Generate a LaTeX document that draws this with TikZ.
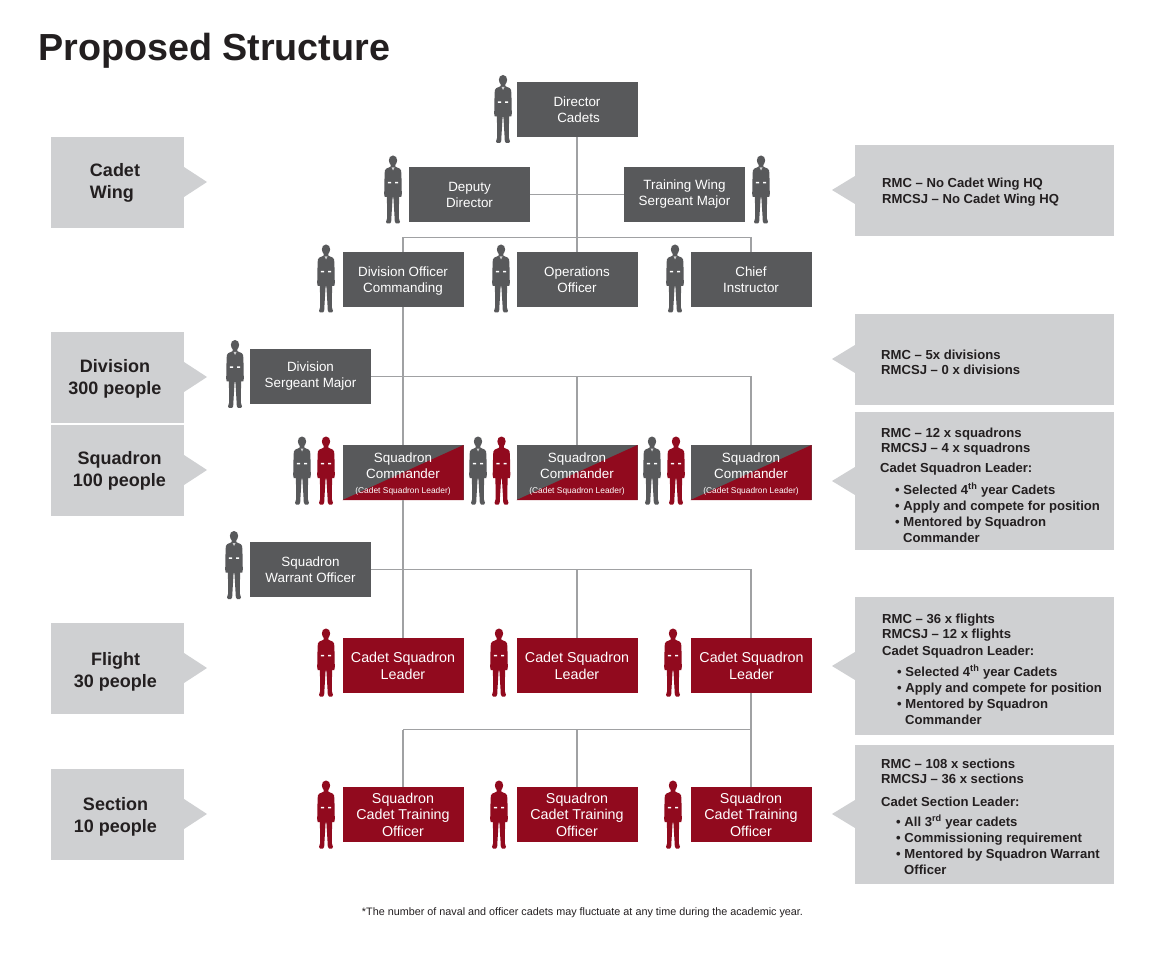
\documentclass[tikz,border=0pt]{standalone}
\usepackage{fontspec}
\setmainfont{Liberation Sans}
\definecolor{dkgrey}{HTML}{58595B}
\definecolor{cadetred}{HTML}{910A1E}
\definecolor{panel}{HTML}{CFD0D2}
\definecolor{linegrey}{HTML}{A0A1A3}
\definecolor{inkdark}{HTML}{231F20}
\newcommand{\fsz}[2]{\fontsize{#1}{#2}\selectfont}
% person silhouette: [collar opacity] centre x, top y, colour
\newcommand{\figperson}[4][.7]{%
\begin{scope}[shift={(#2,#3)}]
\fill[#4] (0,0) .. controls (2.8,0) and (4.1,2.2) .. (4.1,4.8) .. controls (4.1,7) and (3,8.6) .. (2.2,9.6)
 -- (2.4,11.2) -- (6.8,13.2) .. controls (8,13.8) and (8.3,15.6) .. (8.4,18) -- (8.8,38.5) -- (8.3,41.5) -- (6.4,41.5) -- (6.1,41)
 -- (5.8,62.5) -- (7,66.4) -- (6,68) -- (3,68) -- (1.8,66.2) -- (1.6,62) -- (0.4,42) -- (-0.4,42) -- (-1.6,62) -- (-1.8,66.2) -- (-3,68) -- (-6,68) -- (-7,66.4) -- (-5.8,62.5)
 -- (-6.1,41) -- (-6.4,41.5) -- (-8.3,41.5) -- (-8.8,38.5) -- (-8.4,18) .. controls (-8.3,15.6) and (-8,13.8) .. (-6.8,13.2)
 -- (-2.4,11.2) -- (-2.2,9.6) .. controls (-3,8.6) and (-4.1,7) .. (-4.1,4.8) .. controls (-4.1,2.2) and (-2.8,0) .. (0,0) -- cycle;
\fill[white,opacity=#1] (-1.5,12) -- (1.5,12) -- (0,15) -- cycle;
\fill[white] (-5.2,26.4) rectangle (-2,27.8) (2,26.4) rectangle (5.2,27.8);
\end{scope}}
\tikzset{
  x=1pt,y=-1pt,
  orgbox/.style={minimum width=121pt,minimum height=55pt,inner sep=0pt,outer sep=0pt,align=center,text=white},
  greybox/.style={orgbox,fill=dkgrey,font=\fsz{13.4}{16}},
  redbox/.style={orgbox,fill=cadetred,font=\fsz{14.3}{17}},
  splitbox/.style={orgbox,fill=dkgrey,path picture={\fill[cadetred] (path picture bounding box.south west) -- (path picture bounding box.north east) -- (path picture bounding box.south east) -- cycle;}},
  splittext/.style={font=\fsz{13.4}{16},text=white,align=center,inner sep=0pt,yshift=-1.3pt},
  link/.style={draw=linegrey,line width=1.15pt},
  tier/.style={fill=panel},
  tiertext/.style={font=\fsz{18}{22}\bfseries,text=inkdark,align=center,inner sep=0pt},
  note/.style={font=\fsz{13.1}{15.7}\bfseries,text=inkdark,align=left,anchor=north west,inner sep=0pt},
  notelist/.style={note,font=\fsz{13.1}{16}\bfseries},
}
\begin{document}
\begin{tikzpicture}
\useasboundingbox (0,0) rectangle (1170,973);
\fill[white] (0,0) rectangle (1170,973);

\node[anchor=base west,inner sep=0pt,font=\fsz{37.7}{40}\bfseries,text=inkdark] (title) at (38,61) {Proposed Structure};

% left panels
\foreach \yt/\ya in {137/182,332/377,425/470,623/668,769/814}{
  \fill[tier] (51,\yt) rectangle (184,\yt+91);
  \fill[tier] (184,\ya-15) -- (207,\ya) -- (184,\ya+15) -- cycle;
}
\node[tiertext,align=left] (twing) at (115,183) {Cadet\\Wing};
\node[tiertext] (tdiv) at (115,378.5) {Division\\300 people};
\node[tiertext] (tsqn) at (119.5,471) {Squadron\\100 people};
\node[tiertext] (tflt) at (115.5,672) {Flight\\30 people};
\node[tiertext] (tsec) at (115.5,817) {Section\\10 people};

% right panels
\foreach \yt/\yb/\ya in {145/236/190,314/405/359,412/550/481,597/735/666,745/884/814}{
  \fill[tier] (855,\yt) rectangle (1114,\yb);
  \fill[tier] (855,\ya-14) -- (832,\ya) -- (855,\ya+14) -- cycle;
}
\node[note] (n1) at (882,178) {RMC – No Cadet Wing HQ\\RMCSJ – No Cadet Wing HQ};
\node[note] (n2) at (881,349.5) {RMC – 5x divisions\\RMCSJ – 0 x divisions};
\node[note] (n3a) at (881,427.5) {RMC – 12 x squadrons\\RMCSJ – 4 x squadrons};
\node[note] (n3b) at (880,463) {Cadet Squadron Leader:};
\node[notelist] (n3c) at (895,483) {• Selected 4\textsuperscript{th} year Cadets\\• Apply and compete for position\\• Mentored by Squadron\\\hspace*{8pt}Commander};
\node[note] (n4a) at (882,613.5) {RMC – 36 x flights\\RMCSJ – 12 x flights};
\node[note] (n4b) at (882,645.5) {Cadet Squadron Leader:};
\node[notelist] (n4c) at (897,665) {• Selected 4\textsuperscript{th} year Cadets\\• Apply and compete for position\\• Mentored by Squadron\\\hspace*{8pt}Commander};
\node[note] (n5a) at (881,758.5) {RMC – 108 x sections\\RMCSJ – 36 x sections};
\node[note] (n5b) at (881,796.5) {Cadet Section Leader:};
\node[notelist] (n5c) at (896,815) {• All 3\textsuperscript{rd} year cadets\\• Commissioning requirement\\• Mentored by Squadron Warrant\\\hspace*{8pt}Officer};

% boxes
\node[greybox] (dir) at (577,109.5) {Director\\\hspace*{3pt}Cadets};
\node[greybox] (dep) at (469.5,194.5) {Deputy\\Director};
\node[greybox] (tws) at (684.5,194.5) {Training Wing\\Sergeant Major};
\node[greybox] (doc) at (403,279.5) {Division Officer\\\smash{Commanding}};
\node[greybox] (ops) at (577,279.5) {Operations\\Officer};
\node[greybox] (chf) at (751,279.5) {Chief\\Instructor};
\node[greybox] (dsm) at (310.5,376.5) {Division\\Sergeant Major};
\foreach \n/\cx in {sqa/403,sqb/577,sqc/751}{
  \node[splitbox,label={[splittext]center:Squadron\\Commander\\[-0.5pt]{\fsz{8.4}{10.5}(Cadet Squadron Leader)}}] (\n) at (\cx,472.5) {};
}
\node[greybox] (swo) at (310.5,569.5) {Squadron\\Warrant Officer};
\foreach \n/\cx in {csa/403,csb/577,csc/751.5}{
  \node[redbox] (\n) at (\cx,665.5) {Cadet Squadron\\Leader};
}
\foreach \n/\cx in {tra/403,trb/577,trc/751}{
  \node[redbox,font=\fsz{14.3}{16.5}] (\n) at (\cx,814.5) {Squadron\\Cadet Training\\Officer};
}

% junction points
\coordinate (j2) at (577,237.5);
\coordinate (j2l) at (doc.north |- j2);
\coordinate (j2r) at (chf.north |- j2);
\coordinate (j3m) at (sqb.north |- dsm.east);
\coordinate (j3r) at (sqc.north |- dsm.east);
\coordinate (j4m) at (csb.north |- swo.east);
\coordinate (j4r) at (trc.north |- swo.east);
\coordinate (j5l) at (tra.north |- 0,729.5);
\coordinate (j5m) at (trb.north |- 0,729.5);
\coordinate (j5r) at (trc.north |- 0,729.5);

% connectors
\draw[link] (dir.south) -- (ops.north);
\draw[link] (dep.east) -- (tws.west);
\draw[link] (j2l) -- (j2r);
\draw[link] (j2l) -- (doc.north);
\draw[link] (j2r) -- (chf.north);
\draw[link] (doc.south) -- (sqa.north);
\draw[link] (dsm.east) -- (j3r) -- (sqc.north);
\draw[link] (j3m) -- (sqb.north);
\draw[link] (sqa.south) -- (csa.north);
\draw[link] (swo.east) -- (j4r) -- (csc.north -| j4r);
\draw[link] (j4m) -- (csb.north);
\draw[link] (csc.south -| trc.north) -- (trc.north);
\draw[link] (j5l) -- (j5r);
\draw[link] (j5l) -- (tra.north);
\draw[link] (j5m) -- (trb.north);

% people
\figperson{503}{75}{dkgrey}
\figperson{393}{155.5}{dkgrey}
\figperson{761}{155.5}{dkgrey}
\figperson{326}{244.5}{dkgrey}
\figperson{501}{244.5}{dkgrey}
\figperson{675}{244.5}{dkgrey}
\figperson{235}{340}{dkgrey}
\figperson{302}{436.5}{dkgrey}
\figperson[0]{326}{436.5}{cadetred}
\figperson{478}{436.5}{dkgrey}
\figperson[0]{501.5}{436.5}{cadetred}
\figperson{652}{436.5}{dkgrey}
\figperson[0]{676}{436.5}{cadetred}
\figperson{234}{531}{dkgrey}
\figperson[0]{326}{628.5}{cadetred}
\figperson[0]{499}{628.5}{cadetred}
\figperson[0]{673}{628.5}{cadetred}
\figperson[0]{326}{780.5}{cadetred}
\figperson[0]{499}{780.5}{cadetred}
\figperson[0]{673}{780.5}{cadetred}

\node[font=\fsz{10.8}{12},text=inkdark,inner sep=0pt] (foot) at (582.5,912.5) {*The number of naval and officer cadets may fluctuate at any time during the academic year.};
\end{tikzpicture}
\end{document}
